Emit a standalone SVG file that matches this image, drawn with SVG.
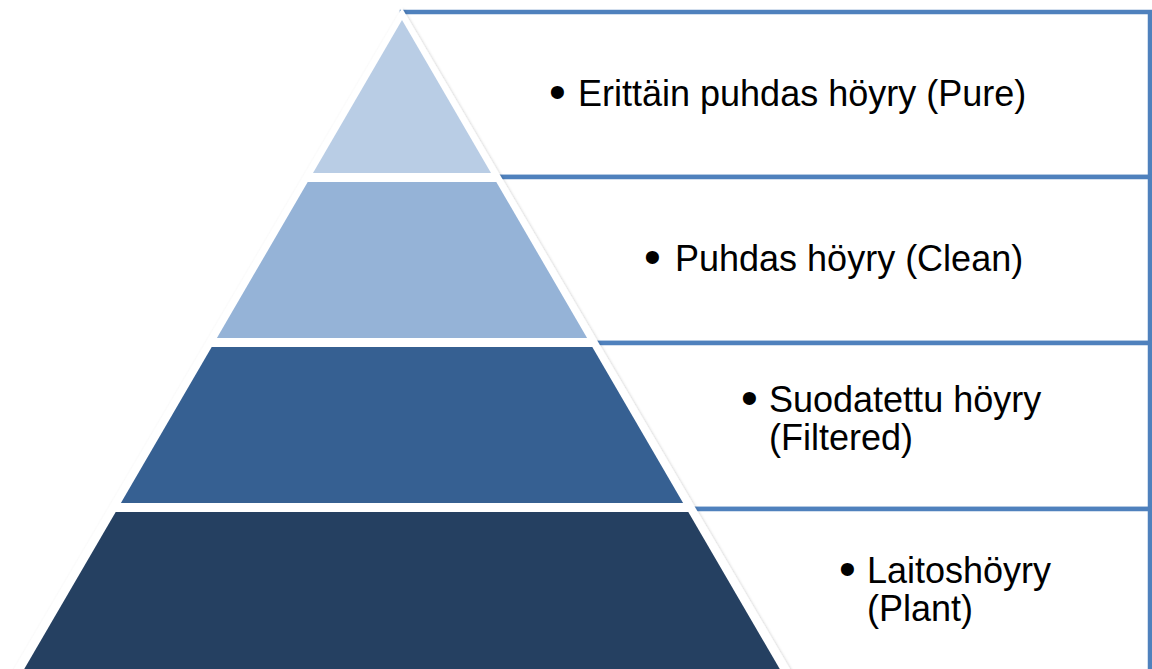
<svg xmlns="http://www.w3.org/2000/svg" width="1152" height="669" viewBox="0 0 1152 669">
<defs>
<style>
.box{fill:#ffffff;stroke:#4F81BD;stroke-width:4.5}
.t{font-family:"Liberation Sans",Arial,sans-serif;font-size:36px;fill:#000000}
.b{font-family:"Liberation Sans",Arial,sans-serif;font-size:48px;fill:#000000}
</style>
<filter id="sh" x="-5%" y="-5%" width="110%" height="110%">
<feDropShadow dx="1" dy="1" stdDeviation="1.5" flood-color="#000000" flood-opacity="0.22"/>
</filter>
</defs>
<rect width="1152" height="669" fill="#ffffff"/>
<g id="boxes">
<g id="box1"><rect class="box" x="402" y="12" width="748" height="165"/></g>
<g id="box2"><rect class="box" x="402" y="177" width="748" height="166"/></g>
<g id="box3"><rect class="box" x="402" y="343" width="748" height="166"/></g>
<g id="box4"><rect class="box" x="402" y="509" width="748" height="170"/></g>
</g>
<g id="pyramid">
<polygon points="402,8 7.5,680 796.5,680" fill="#ffffff" filter="url(#sh)"/>
<g id="level1"><polygon points="402,20 491,173 313,173" fill="#B9CDE5"/></g>
<g id="level2"><polygon points="307.7,182 496.3,182 587.1,338 216.9,338" fill="#95B3D7"/></g>
<g id="level3"><polygon points="211.7,347 592.3,347 683.1,503 120.9,503" fill="#366092"/></g>
<g id="level4"><polygon points="115.7,512 688.3,512 785,678 19,678" fill="#254061"/></g>
</g>
<g id="labels">
<g id="label1"><text class="b" x="549" y="108">•</text><text class="t" x="578" y="106">Erittäin puhdas höyry (Pure)</text></g>
<g id="label2"><text class="b" x="644" y="273">•</text><text class="t" x="675" y="271">Puhdas höyry (Clean)</text></g>
<g id="label3"><text class="b" x="741" y="414">•</text><text class="t" x="769" y="412">Suodatettu höyry</text><text class="t" x="769" y="450">(Filtered)</text></g>
<g id="label4"><text class="b" x="839" y="585">•</text><text class="t" x="867" y="583">Laitoshöyry</text><text class="t" x="867" y="621">(Plant)</text></g>
</g>
</svg>
